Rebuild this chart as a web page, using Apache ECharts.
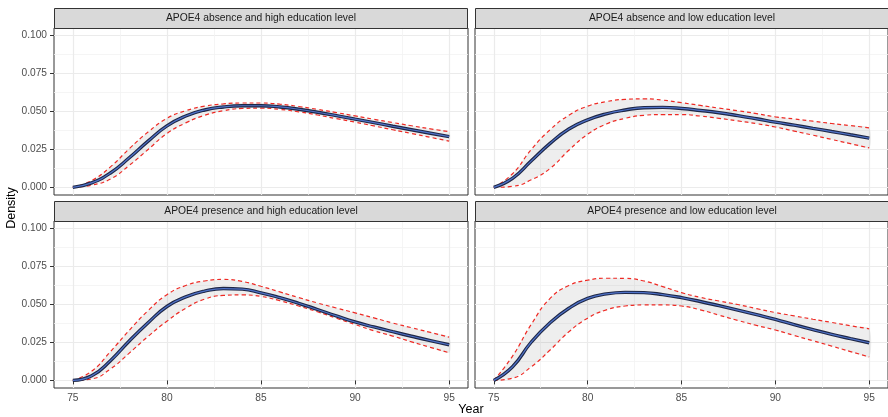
<!DOCTYPE html>
<html>
<head>
<meta charset="utf-8">
<script src="https://cdn.jsdelivr.net/npm/echarts@6/dist/echarts.min.js"></script>
<style>
html, body { margin: 0; padding: 0; background: #fff; }
#chart { width: 888px; height: 417px; }
</style>
</head>
<body>
<div id="chart"></div>
<script>
const years = [75, 76, 77, 78, 79, 80, 81, 82, 83, 84, 85, 86, 87, 88, 89, 90, 91, 92, 93, 94, 95];

const panelTitles = [
  'APOE4 absence and high education level',
  'APOE4 absence and low education level',
  'APOE4 presence and high education level',
  'APOE4 presence and low education level'
];

// absence / high education
const absHighFit   = [0, 0.0030, 0.0095, 0.0195, 0.0305, 0.0405, 0.0470, 0.0510, 0.0530, 0.0538, 0.0538, 0.0530, 0.0515, 0.0495, 0.0473, 0.0450, 0.0427, 0.0403, 0.0380, 0.0357, 0.0334];
const absHighUpper = [0, 0.0045, 0.0135, 0.0255, 0.0365, 0.0455, 0.0505, 0.0535, 0.0550, 0.0556, 0.0556, 0.0548, 0.0533, 0.0514, 0.0493, 0.0471, 0.0449, 0.0427, 0.0406, 0.0386, 0.0367];
const absHighLower = [0, 0.0015, 0.0055, 0.0145, 0.0250, 0.0355, 0.0425, 0.0475, 0.0505, 0.0520, 0.0522, 0.0514, 0.0498, 0.0477, 0.0453, 0.0430, 0.0405, 0.0380, 0.0355, 0.0330, 0.0305];

// absence / low education
const absLowFit   = [0, 0.0060, 0.0175, 0.0290, 0.0385, 0.0445, 0.0485, 0.0510, 0.0525, 0.0527, 0.0520, 0.0507, 0.0492, 0.0473, 0.0452, 0.0430, 0.0410, 0.0389, 0.0368, 0.0347, 0.0325];
const absLowUpper = [0, 0.0090, 0.0250, 0.0380, 0.0475, 0.0535, 0.0565, 0.0580, 0.0583, 0.0575, 0.0558, 0.0540, 0.0522, 0.0505, 0.0486, 0.0465, 0.0451, 0.0436, 0.0421, 0.0407, 0.0392];
const absLowLower = [0, 0.0007, 0.0050, 0.0125, 0.0245, 0.0350, 0.0418, 0.0455, 0.0475, 0.0480, 0.0480, 0.0470, 0.0455, 0.0438, 0.0420, 0.0398, 0.0371, 0.0344, 0.0316, 0.0288, 0.0260];

// presence / high education
const preHighFit   = [0, 0.0030, 0.0130, 0.0260, 0.0380, 0.0487, 0.0550, 0.0588, 0.0605, 0.0601, 0.0577, 0.0545, 0.0508, 0.0467, 0.0425, 0.0385, 0.0352, 0.0321, 0.0291, 0.0262, 0.0235];
const preHighUpper = [0, 0.0060, 0.0190, 0.0330, 0.0460, 0.0565, 0.0625, 0.0655, 0.0665, 0.0652, 0.0620, 0.0583, 0.0546, 0.0510, 0.0477, 0.0445, 0.0412, 0.0378, 0.0347, 0.0316, 0.0285];
const preHighLower = [0, 0.0010, 0.0075, 0.0180, 0.0290, 0.0390, 0.0475, 0.0535, 0.0560, 0.0563, 0.0553, 0.0525, 0.0490, 0.0452, 0.0410, 0.0368, 0.0327, 0.0292, 0.0254, 0.0218, 0.0182];

// presence / low education
const preLowFit   = [0, 0.0090, 0.0253, 0.0380, 0.0475, 0.0540, 0.0570, 0.0580, 0.0578, 0.0565, 0.0545, 0.0520, 0.0492, 0.0463, 0.0433, 0.0402, 0.0367, 0.0334, 0.0303, 0.0275, 0.0248];
const preLowUpper = [0, 0.0160, 0.0370, 0.0540, 0.0625, 0.0660, 0.0673, 0.0672, 0.0655, 0.0618, 0.0578, 0.0547, 0.0523, 0.0500, 0.0473, 0.0447, 0.0425, 0.0403, 0.0382, 0.0360, 0.0340];
const preLowLower = [0, 0.0015, 0.0090, 0.0200, 0.0320, 0.0410, 0.0465, 0.0490, 0.0497, 0.0497, 0.0490, 0.0465, 0.0430, 0.0395, 0.0362, 0.0332, 0.0296, 0.0261, 0.0226, 0.0190, 0.0155];

const yTicks = [0, 0.025, 0.05, 0.075, 0.1];
const yMinorTicks = [0.0125, 0.0375, 0.0625, 0.0875];
const xTicks = [75, 80, 85, 90, 95];
const xMinorTicks = [77.5, 82.5, 87.5, 92.5];

const panels = [
  { fit: absHighFit, upper: absHighUpper, lower: absHighLower, left: 54,  top: 28 },
  { fit: absLowFit,  upper: absLowUpper,  lower: absLowLower,  left: 475, top: 28 },
  { fit: preHighFit, upper: preHighUpper, lower: preHighLower, left: 54,  top: 221 },
  { fit: preLowFit,  upper: preLowUpper,  lower: preLowLower,  left: 475, top: 221 }
];
const panelW = 414, panelH = 167, stripH = 20;
const font = '"Liberation Sans", Arial, sans-serif';

const pairs = arr => years.map((y, j) => [y, arr[j]]);

const grids = [], xAxes = [], yAxes = [], series = [], graphics = [];

panels.forEach((p, i) => {
  const bottomRow = i >= 2;
  const leftCol = i % 2 === 0;

  grids.push({
    left: p.left, top: p.top, width: panelW, height: panelH,
    show: true, borderColor: '#333', borderWidth: 1
  });

  // major x axis
  xAxes.push({
    type: 'value', gridIndex: i, min: 74, max: 96,
    axisLine: { show: false },
    axisTick: { show: bottomRow, customValues: xTicks, length: 4, lineStyle: { color: '#333' } },
    axisLabel: { show: bottomRow, customValues: xTicks, margin: 5, color: '#4D4D4D', fontSize: 10.2, fontFamily: font },
    splitLine: { show: true, lineStyle: { color: '#EBEBEB', width: 1.2 } }
  });
  // minor x grid lines
  xAxes.push({
    type: 'value', gridIndex: i, min: 74, max: 96,
    axisLine: { show: false },
    axisTick: { show: false, customValues: xMinorTicks },
    axisLabel: { show: false, customValues: xMinorTicks },
    splitLine: { show: true, lineStyle: { color: '#F3F3F3', width: 0.8 } }
  });
  // major y axis
  yAxes.push({
    type: 'value', gridIndex: i, min: -0.005, max: 0.105,
    axisLine: { show: false },
    axisTick: { show: leftCol, customValues: yTicks, length: 4, lineStyle: { color: '#333' } },
    axisLabel: {
      show: leftCol, customValues: yTicks, margin: 7, color: '#4D4D4D', fontSize: 10.2, fontFamily: font,
      formatter: v => v.toFixed(3)
    },
    splitLine: { show: true, lineStyle: { color: '#EBEBEB', width: 1.2 } }
  });
  // minor y grid lines
  yAxes.push({
    type: 'value', gridIndex: i, min: -0.005, max: 0.105,
    axisLine: { show: false },
    axisTick: { show: false, customValues: yMinorTicks },
    axisLabel: { show: false, customValues: yMinorTicks },
    splitLine: { show: true, lineStyle: { color: '#F3F3F3', width: 0.8 } }
  });

  const xi = i * 2, yi = i * 2;
  const common = { xAxisIndex: xi, yAxisIndex: yi, symbol: 'none', smooth: 0.5, silent: true };

  // grey confidence ribbon between the bounds
  series.push({
    type: 'custom', xAxisIndex: xi, yAxisIndex: yi, silent: true, z: 1,
    data: pairs(p.upper),
    renderItem: (params, api) => {
      if (params.dataIndex !== 0) return;
      const pts = [];
      years.forEach((y, j) => pts.push(api.coord([y, p.upper[j]])));
      for (let j = years.length - 1; j >= 0; j--) pts.push(api.coord([years[j], p.lower[j]]));
      return {
        type: 'polygon',
        shape: { points: pts, smooth: 0.25 },
        style: { fill: 'rgba(0,0,0,0.065)' }
      };
    }
  });
  // red dashed bounds
  [p.upper, p.lower].forEach(b => {
    series.push(Object.assign({}, common, {
      type: 'line', data: pairs(b),
      lineStyle: { color: '#EE2A24', width: 1.2, type: [4, 3] }
    }));
  });
  // fitted density: dark outline with blue core
  series.push(Object.assign({}, common, {
    type: 'line', data: pairs(p.fit),
    lineStyle: { color: '#1E2746', width: 3.4 }
  }));
  series.push(Object.assign({}, common, {
    type: 'line', data: pairs(p.fit),
    lineStyle: { color: '#4F72C8', width: 1.2 }
  }));

  // facet strip
  const stripTop = p.top - stripH;
  graphics.push({
    type: 'rect', z: 10,
    shape: { x: p.left + 0.5, y: stripTop + 0.5, width: panelW - 1, height: stripH },
    style: { fill: '#D9D9D9', stroke: '#333', lineWidth: 1 }
  });
  graphics.push({
    type: 'text', z: 11, x: p.left + panelW / 2, y: stripTop + stripH / 2 + 0.5,
    style: { text: panelTitles[i], fill: '#1A1A1A', fontSize: 10.3, fontFamily: font, align: 'center', verticalAlign: 'middle' }
  });
});

graphics.push({
  type: 'text', x: 12, y: 208, rotation: Math.PI / 2,
  style: { text: 'Density', fill: '#000', fontSize: 12.5, fontFamily: font, align: 'center', verticalAlign: 'middle' }
});
graphics.push({
  type: 'text', x: 471, y: 410,
  style: { text: 'Year', fill: '#000', fontSize: 12.5, fontFamily: font, align: 'center', verticalAlign: 'middle' }
});

const myChart = echarts.init(document.getElementById('chart'));
myChart.setOption({
  animation: false,
  backgroundColor: '#fff',
  grid: grids,
  xAxis: xAxes,
  yAxis: yAxes,
  series: series,
  graphic: graphics
});
</script>
</body>
</html>
